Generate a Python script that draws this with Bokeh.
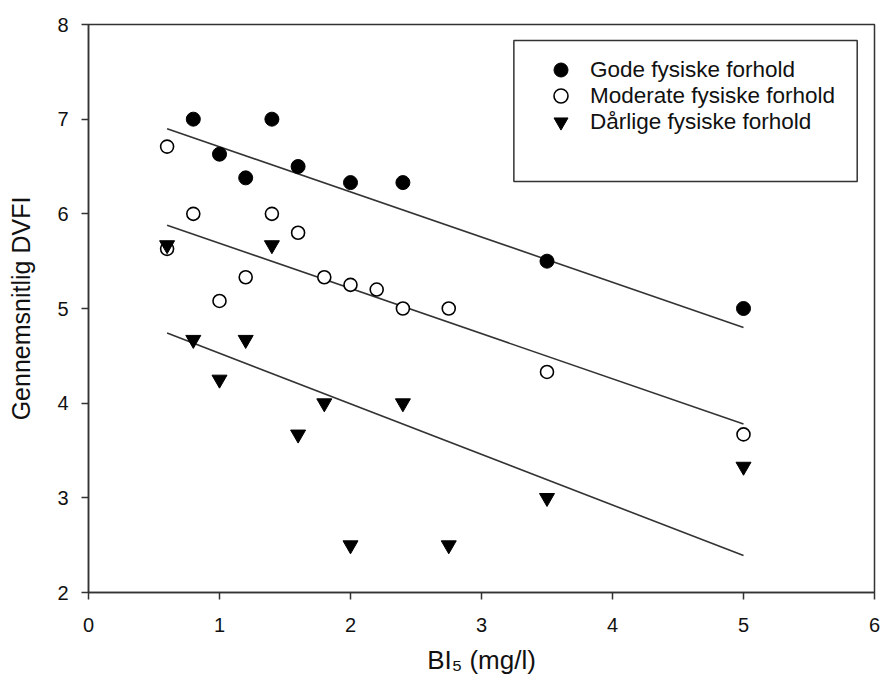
from bokeh.plotting import figure
from bokeh.models import Range1d, FixedTicker, Legend, LegendItem, BoxAnnotation
from bokeh.embed import file_html
from bokeh.resources import INLINE

# --- data ---
gode_x = [0.8, 1.0, 1.2, 1.4, 1.6, 2.0, 2.4, 3.5, 5.0]
gode_y = [7.0, 6.63, 6.38, 7.0, 6.5, 6.33, 6.33, 5.5, 5.0]

moderate_x = [0.6, 0.6, 0.8, 1.0, 1.2, 1.4, 1.6, 1.8, 2.0, 2.2, 2.4, 2.75, 3.5, 5.0]
moderate_y = [6.71, 5.63, 6.0, 5.08, 5.33, 6.0, 5.8, 5.33, 5.25, 5.2, 5.0, 5.0, 4.33, 3.67]

darlig_x = [0.6, 0.8, 1.0, 1.2, 1.4, 1.6, 1.8, 2.0, 2.4, 2.75, 3.5, 5.0]
darlig_y = [5.67, 4.67, 4.25, 4.67, 5.67, 3.67, 4.0, 2.5, 4.0, 2.5, 3.0, 3.33]

# regression line end points (x = 0.6 and x = 5.0)
fit_x = [0.6, 5.0]
fit_gode = [6.90, 4.80]
fit_moderate = [5.88, 3.78]
fit_darlig = [4.74, 2.39]

labels = ["Gode fysiske forhold", "Moderate fysiske forhold", "Dårlige fysiske forhold"]
x_ticks = [0, 1, 2, 3, 4, 5, 6]
y_ticks = [2, 3, 4, 5, 6, 7, 8]
x_title = "BI\u2085 (mg/l)"
y_title = "Gennemsnitlig DVFI"

FONT = "Liberation Sans"
TXT = "#111111"
AX = "#333333"

p = figure(width=880, height=678, x_range=Range1d(0, 6), y_range=Range1d(2, 8),
           output_backend="svg", toolbar_location=None,
           min_border_left=88, min_border_right=6, min_border_top=24, min_border_bottom=86)
p.background_fill_color = "white"
p.border_fill_color = "white"
p.grid.visible = False
p.outline_line_color = AX
p.outline_line_width = 1.5

for ax in (p.xaxis[0], p.yaxis[0]):
    ax.axis_line_color = AX
    ax.axis_line_width = 1.5
    ax.major_tick_line_color = AX
    ax.major_tick_line_width = 1.5
    ax.major_tick_out = 7
    ax.major_tick_in = 0
    ax.minor_tick_line_color = None
    ax.major_label_text_font = FONT
    ax.major_label_text_font_size = "20px"
    ax.major_label_text_color = TXT
    ax.axis_label_text_font = FONT
    ax.axis_label_text_font_style = "normal"
    ax.axis_label_text_color = TXT

p.xaxis.ticker = FixedTicker(ticks=x_ticks)
p.yaxis.ticker = FixedTicker(ticks=y_ticks)
p.xaxis.major_label_standoff = 18
p.yaxis.major_label_standoff = 13
p.xaxis.axis_label = x_title
p.xaxis.axis_label_text_font_size = "26px"
p.xaxis.axis_label_standoff = 10
p.yaxis.axis_label = y_title
p.yaxis.axis_label_text_font_size = "25px"
p.yaxis.axis_label_standoff = 19

# regression lines
p.line(fit_x, fit_gode, line_color=AX, line_width=1.6)
p.line(fit_x, fit_moderate, line_color=AX, line_width=1.6)
p.line(fit_x, fit_darlig, line_color=AX, line_width=1.6)

r_mod = p.scatter(moderate_x, moderate_y, marker="circle", size=13,
                  fill_color="white", line_color="black", line_width=1.6)
r_gode = p.scatter(gode_x, gode_y, marker="circle", size=14,
                   fill_color="black", line_color="black")
r_dar = p.scatter(darlig_x, darlig_y, marker="inverted_triangle", size=15,
                  fill_color="black", line_color="black")

# legend frame
p.add_layout(BoxAnnotation(left=3.247, right=5.868, top=7.831, bottom=6.342,
                           fill_alpha=0, line_color=AX, line_alpha=1.0, line_width=1.5))

# one legend per entry so that rows can sit closer than the glyph box
legend_rows = [(labels[0], r_gode, 505), (labels[1], r_mod, 479), (labels[2], r_dar, 453)]
for lab, rend, ybottom in legend_rows:
    lg = Legend(items=[LegendItem(label=lab, renderers=[rend])],
                location=(455, ybottom), glyph_width=35, glyph_height=35, spacing=0,
                label_standoff=12, padding=0, margin=0,
                border_line_alpha=0, background_fill_alpha=0,
                label_text_font=FONT, label_text_font_size="22.5px",
                label_text_color=TXT, label_text_baseline="middle")
    p.add_layout(lg)

open("out.html", "w").write(file_html(p, INLINE))
